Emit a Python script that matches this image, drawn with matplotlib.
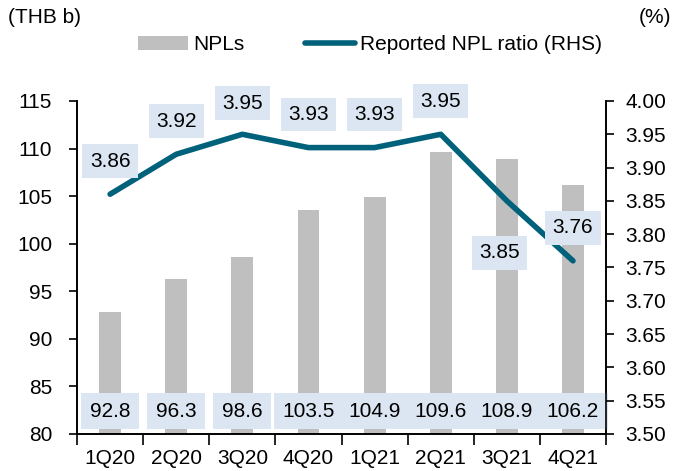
import matplotlib.pyplot as plt
import numpy as np

plt.rcParams['font.family'] = ['Liberation Sans', 'DejaVu Sans']
plt.rcParams['font.size'] = 15

quarters = ["1Q20", "2Q20", "3Q20", "4Q20", "1Q21", "2Q21", "3Q21", "4Q21"]
npls = [92.8, 96.3, 98.6, 103.5, 104.9, 109.6, 108.9, 106.2]
npl_ratio = [3.86, 3.92, 3.95, 3.93, 3.93, 3.95, 3.85, 3.76]

bar_color = "#BFBFBF"
line_color = "#00627A"
box_color = "#DCE6F2"

fig = plt.figure(figsize=(6.78, 4.71), dpi=100)
ax = fig.add_axes([0.1136, 0.0786, 0.7803, 0.707])
ax2 = ax.twinx()

x = np.arange(len(quarters))
bars = ax.bar(x, npls, width=0.33, color=bar_color, label="NPLs", zorder=1)
ax.set_ylim(80, 115)
ax.set_yticks(np.arange(80, 116, 5))
ax.set_xlim(-0.5, len(quarters) - 0.5)

line, = ax2.plot(x, npl_ratio, color=line_color, lw=4, solid_capstyle='round',
                 label="Reported NPL ratio (RHS)", zorder=3)
ax2.set_ylim(3.5, 4.0)
ax2.set_yticks(np.arange(3.5, 4.001, 0.05))
ax2.set_yticklabels([f"{v:.2f}" for v in np.arange(3.5, 4.001, 0.05)])

# x ticks at category boundaries, labels in the middle
ax.set_xticks(np.arange(-0.5, len(quarters), 1))
ax.set_xticklabels([])
ax.set_xticks(x, minor=True)
ax.set_xticklabels(quarters, minor=True)
ax.tick_params(axis='x', which='major', direction='out', length=8, width=1.2)
ax.tick_params(axis='x', which='minor', length=0, pad=11)
ax.tick_params(axis='y', direction='out', length=6, width=1.2, pad=12)
ax2.tick_params(axis='y', direction='out', length=6, width=1.2, pad=8)

for a in (ax, ax2):
    a.spines['top'].set_visible(False)
    for s in ('left', 'right', 'bottom'):
        a.spines[s].set_linewidth(1.2)

# bar value labels near the bottom
for xi, v in zip(x, npls):
    ax.text(xi, 82.4, f"{v:.1f}", ha='center', va='center', zorder=5,
            bbox=dict(boxstyle='square,pad=0.42', fc=box_color, ec='none'))

# ratio labels
offsets = [(0, 33), (0, 33), (0, 31), (0, 33), (0, 33), (0, 33), (-7, -52), (0, 33)]
for xi, v, (dx, dy) in zip(x, npl_ratio, offsets):
    ax2.annotate(f"{v:.2f}", (xi, v), xytext=(dx * 0.72, dy * 0.72),
                 textcoords='offset points', ha='center', va='center', zorder=6,
                 bbox=dict(boxstyle='square,pad=0.35', fc=box_color, ec='none'))

fig.legend([bars, line], ["NPLs", "Reported NPL ratio (RHS)"], ncol=2,
           loc='center', bbox_to_anchor=(0.546, 0.905), frameon=False,
           handlelength=2.4, columnspacing=2.9, handletextpad=0.25)

fig.text(0.012, 0.962, "(THB b)", ha='left', va='center')
fig.text(0.99, 0.962, "(%)", ha='right', va='center')

fig.savefig("out.png", dpi=100)
